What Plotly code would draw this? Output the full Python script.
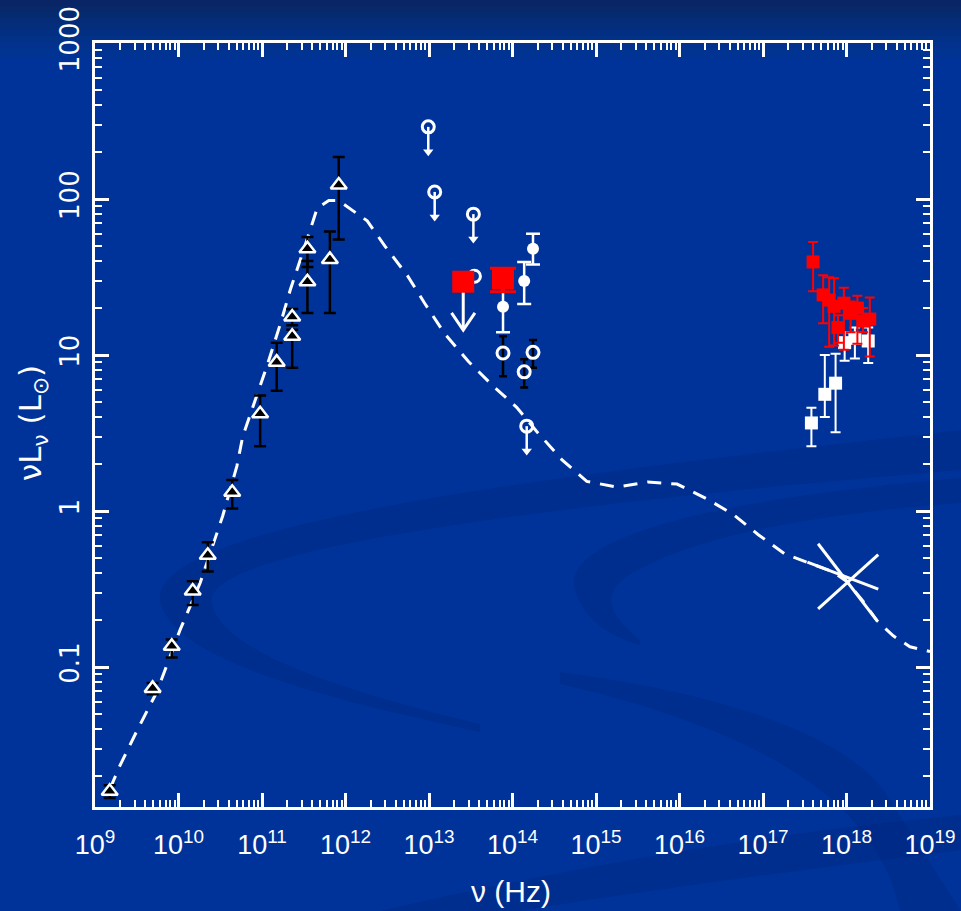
import numpy as np
import plotly.graph_objects as go

# ---------------- data ----------------
# radio / sub-mm (triangles)
radio_nu = [1.5e9, 4.9e9, 8.3e9, 1.48e10, 2.24e10, 4.4e10, 9.5e10, 1.5e11,
            2.3e11, 2.3e11, 3.5e11, 3.5e11, 6.5e11, 8.3e11]
radio_L = [0.016, 0.073, 0.136, 0.307, 0.52, 1.32, 4.2, 9.0,
           13.2, 17.5, 29.5, 48, 41, 123]
radio_hi = [0.0175, 0.079, 0.150, 0.355, 0.63, 1.58, 5.5, 12.0,
            14.5, 19.7, 40, 57, 62, 186]
radio_lo = [0.0145, 0.067, 0.115, 0.25, 0.41, 1.04, 2.6, 5.9,
            8.3, 15.5, 18.6, 36.6, 18.6, 55]

# IR upper limits (open circles with arrows)
ul_nu = [9.8e12, 1.17e13, 3.4e13, 1.48e14]
ul_L = [290, 111, 80, 3.5]
hidden_nu = [3.5e13]
hidden_L = [32]

# mid-IR open circles with black error bars
mir_nu = [7.7e13, 1.38e14, 1.76e14]
mir_L = [10.3, 7.8, 10.4]
mir_hi = [13.2, 9.4, 12.5]
mir_lo = [7.3, 6.2, 8.3]

# near-IR filled white circles
nir_nu = [7.7e13, 1.38e14, 1.76e14]
nir_L = [20.4, 29.8, 48]
nir_hi = [27, 39.5, 60]
nir_lo = [14, 21.2, 38]

# big red squares
red_ul_nu = [2.57e13]
red_ul_L = [29.5]
red_det_nu = [7.7e13]
red_det_L = [31]
red_det_hi = [36]
red_det_lo = [25.4]

# X-ray (red)
xr_red_nu = [3.98e17, 5.25e17, 6.2e17, 7.1e17, 7.9e17, 9.3e17, 1.12e18, 1.35e18, 1.58e18, 1.9e18]
xr_red_L = [39.5, 24.3, 22.5, 20.5, 15.0, 21.5, 18.5, 20.0, 16.5, 17.0]
xr_red_hi = [53, 32.5, 31.5, 31.0, 18.0, 27.0, 22.0, 24.0, 20.0, 23.4]
xr_red_lo = [25.6, 16.0, 11.3, 11.5, 12.0, 10.8, 14.0, 11.8, 14.0, 9.8]

# X-ray (white)
xr_wh_nu = [3.8e17, 5.5e17, 7.4e17, 9.5e17, 1.26e18, 1.82e18]
xr_wh_L = [3.67, 5.6, 6.6, 12.0, 12.8, 12.3]
xr_wh_hi = [4.6, 10.0, 10.2, 14.0, 15.0, 15.0]
xr_wh_lo = [2.6, 4.0, 3.2, 9.2, 9.5, 8.9]

# X-ray bow-tie (three lines)
bow1_nu = [4.57e17, 2.34e18]
bow1_L = [0.617, 0.197]
bow2_nu = [4.57e17, 2.4e18]
bow2_L = [0.236, 0.525]
bow3_nu = [3.4e17, 2.4e18]
bow3_L = [0.471, 0.316]

# model SED (dashed), log10 values
model_lognu = [9.18, 9.3, 9.51, 9.74, 10.02, 10.26, 10.53, 10.70, 10.77, 11.06, 11.22,
               11.34, 11.57, 11.66, 11.80, 11.90, 11.97, 12.26, 12.47, 12.74, 12.95,
               13.19, 13.47, 13.77, 14.05, 14.29, 14.59, 14.89, 15.25, 15.62, 15.97,
               16.33, 16.64, 16.94, 17.26, 17.6, 17.84, 18.0, 18.2, 18.37, 18.56,
               18.76, 18.9, 19.0]
model_logL = [-1.78, -1.63, -1.40, -1.16, -0.76, -0.46, -0.03, 0.29, 0.48, 0.93, 1.20,
              1.42, 1.79, 1.94, 1.99, 1.99, 1.97, 1.86, 1.70, 1.51, 1.33,
              1.135, 0.96, 0.80, 0.665, 0.51, 0.33, 0.19, 0.154, 0.186, 0.173,
              0.077, -0.02, -0.15, -0.275, -0.34, -0.39, -0.45, -0.58, -0.705, -0.80,
              -0.87, -0.885, -0.90]

x_tick_exp = list(range(9, 20))
y_tick_vals = [0.1, 1, 10, 100, 1000]
y_tick_text = ["0.1", "1", "10", "100", "1000"]

# ---------------- figure ----------------
W, H = 961, 911
ML, MR, MT, MB = 95, 31, 43, 104
PW, PH = W - ML - MR, H - MT - MB

def pxp(px, py):
    return (px - ML) / PW, (H - MB - py) / PH

WHITE = "white"
fig = go.Figure()

# model curve
fig.add_trace(go.Scatter(x=10 ** np.array(model_lognu), y=10 ** np.array(model_logL),
                         mode="lines", line=dict(color=WHITE, width=3, dash="14px,10px"),
                         hoverinfo="skip"))

# bow-tie
for bx, by in [(bow1_nu, bow1_L), (bow2_nu, bow2_L), (bow3_nu, bow3_L)]:
    fig.add_trace(go.Scatter(x=bx, y=by, mode="lines", line=dict(color=WHITE, width=3)))

# upper-limit arrows for small open circles
ul_arrow = 10 ** -0.16
for nu, L in zip(ul_nu, ul_L):
    fig.add_trace(go.Scatter(x=[nu, nu], y=[L, L * ul_arrow], mode="lines",
                             line=dict(color=WHITE, width=2.5)))
fig.add_trace(go.Scatter(x=ul_nu, y=[L * ul_arrow for L in ul_L], mode="markers",
                         marker=dict(symbol="triangle-down", size=9, color=WHITE)))
fig.add_trace(go.Scatter(x=ul_nu, y=ul_L, mode="markers",
                         marker=dict(symbol="circle-open", size=12, color=WHITE,
                                     line=dict(width=3, color=WHITE))))
fig.add_trace(go.Scatter(x=hidden_nu, y=hidden_L, mode="markers",
                         marker=dict(symbol="circle-open", size=12, color=WHITE,
                                     line=dict(width=3, color=WHITE))))

# radio triangles
fig.add_trace(go.Scatter(x=radio_nu, y=radio_L, mode="markers",
                         error_y=dict(type="data", symmetric=False,
                                      array=[h - v for h, v in zip(radio_hi, radio_L)],
                                      arrayminus=[v - l for v, l in zip(radio_L, radio_lo)],
                                      color="black", thickness=2.5, width=6),
                         marker=dict(symbol="triangle-up", size=14, color="black",
                                     line=dict(color=WHITE, width=2.5))))

# mid-IR open circles
fig.add_trace(go.Scatter(x=mir_nu, y=mir_L, mode="markers",
                         error_y=dict(type="data", symmetric=False,
                                      array=[h - v for h, v in zip(mir_hi, mir_L)],
                                      arrayminus=[v - l for v, l in zip(mir_L, mir_lo)],
                                      color="black", thickness=2.5, width=4),
                         marker=dict(symbol="circle-open", size=12, color=WHITE,
                                     line=dict(color=WHITE, width=3))))

# near-IR filled circles
fig.add_trace(go.Scatter(x=nir_nu, y=nir_L, mode="markers",
                         error_y=dict(type="data", symmetric=False,
                                      array=[h - v for h, v in zip(nir_hi, nir_L)],
                                      arrayminus=[v - l for v, l in zip(nir_L, nir_lo)],
                                      color=WHITE, thickness=2.5, width=7),
                         marker=dict(symbol="circle", size=12, color=WHITE)))

# big red upper limit + arrow
arrow_tip = 10 ** -0.31
arm_up = 10 ** 0.11
arm_dx = 10 ** 0.14
for nu, L in zip(red_ul_nu, red_ul_L):
    tip = L * arrow_tip
    fig.add_trace(go.Scatter(x=[nu, nu], y=[L, tip], mode="lines",
                             line=dict(color=WHITE, width=3)))
    fig.add_trace(go.Scatter(x=[nu / arm_dx, nu, nu * arm_dx], y=[tip * arm_up, tip, tip * arm_up],
                             mode="lines", line=dict(color=WHITE, width=3)))
fig.add_trace(go.Scatter(x=red_ul_nu, y=red_ul_L, mode="markers",
                         marker=dict(symbol="square", size=22, color="#ff0000")))
fig.add_trace(go.Scatter(x=red_det_nu, y=red_det_L, mode="markers",
                         error_y=dict(type="data", symmetric=False,
                                      array=[h - v for h, v in zip(red_det_hi, red_det_L)],
                                      arrayminus=[v - l for v, l in zip(red_det_L, red_det_lo)],
                                      color="#ff0000", thickness=3, width=13),
                         marker=dict(symbol="square", size=22, color="#ff0000")))

# X-ray white
fig.add_trace(go.Scatter(x=xr_wh_nu, y=xr_wh_L, mode="markers",
                         error_y=dict(type="data", symmetric=False,
                                      array=[h - v for h, v in zip(xr_wh_hi, xr_wh_L)],
                                      arrayminus=[v - l for v, l in zip(xr_wh_L, xr_wh_lo)],
                                      color=WHITE, thickness=2, width=5),
                         marker=dict(symbol="square", size=13, color=WHITE)))
# X-ray red
fig.add_trace(go.Scatter(x=xr_red_nu, y=xr_red_L, mode="markers",
                         error_y=dict(type="data", symmetric=False,
                                      array=[h - v for h, v in zip(xr_red_hi, xr_red_L)],
                                      arrayminus=[v - l for v, l in zip(xr_red_L, xr_red_lo)],
                                      color="#ff0000", thickness=2, width=5),
                         marker=dict(symbol="square", size=13, color="#ff0000")))

# ---------------- background decoration ----------------
shapes = []
# darker gradient at top of slide
top_cols = ["#0a2566", "#082869", "#062a70", "#052c76", "#042e7c", "#032f82",
            "#023188", "#02328d", "#013391", "#013395"]
for i, c in enumerate(top_cols):
    y0 = 1 + (MT - i * 6) / PH
    y1 = 1 + (MT - (i + 1) * 6) / PH
    shapes.append(dict(type="rect", xref="paper", yref="paper", x0=-ML / PW, x1=1 + MR / PW,
                       y0=y1, y1=y0 if i else 1 + (MT + 5) / PH, line=dict(width=0),
                       fillcolor=c, layer="below"))

def path_from(points):
    s = ""
    for cmd, pts in points:
        s += cmd
        s += " ".join("%.4f,%.4f" % pxp(px, py) for px, py in pts) + " "
    return s + "Z"

swoosh = "rgba(0,25,100,0.18)"
# left C-shaped band
pA = path_from([("M", [(961, 430)]), ("C", [(600, 470), (150, 520), (160, 600)]),
                ("C", [(170, 660), (330, 700), (480, 732)]),
                ("L", [(480, 724)]), ("C", [(340, 690), (215, 650), (212, 600)]),
                ("C", [(210, 545), (600, 500), (961, 470)])])
# right C-shaped band
pB = path_from([("M", [(961, 478)]), ("C", [(700, 500), (560, 540), (575, 590)]),
                ("C", [(585, 625), (620, 640), (640, 645)]),
                ("L", [(640, 640)]), ("C", [(615, 620), (600, 600), (622, 580)]),
                ("C", [(680, 540), (800, 515), (961, 503)])])
# lower sweeping band
pC = path_from([("M", [(560, 672)]), ("C", [(700, 690), (850, 730), (890, 800)]),
                ("L", [(961, 911)]), ("L", [(900, 911)]),
                ("C", [(880, 820), (800, 740), (560, 684)])])
# bottom-right diagonal band
pD = path_from([("M", [(380, 911)]), ("C", [(600, 860), (800, 830), (961, 815)]),
                ("L", [(961, 850)]), ("C", [(800, 870), (650, 890), (520, 911)])])
for p in [pA, pB, pC, pD]:
    shapes.append(dict(type="path", xref="paper", yref="paper", path=p,
                       fillcolor=swoosh, line=dict(width=0), layer="below"))

# ---------------- axes ----------------
minor_x = [m * 10 ** e for e in range(9, 19) for m in range(2, 10)]
minor_y = [m * 10 ** e for e in range(-2, 3) for m in range(2, 10)]
SANS = "Liberation Sans, Arial, sans-serif"
WIDE = "DejaVu Sans, Verdana, sans-serif"

fig.update_xaxes(type="log", range=[9, 19], showgrid=False, zeroline=False,
                 automargin=False,
                 showline=True, linecolor=WHITE, linewidth=3, mirror="allticks",
                 ticks="inside", ticklen=14, tickwidth=2.5, tickcolor=WHITE,
                 tickmode="array", tickvals=[10 ** e for e in x_tick_exp],
                 ticktext=["10<sup>%d</sup>" % e for e in x_tick_exp],
                 tickfont=dict(family=SANS, size=27, color=WHITE),
                 ticklabelstandoff=12,
                 minor=dict(ticks="inside", ticklen=7, tickwidth=2, tickcolor=WHITE,
                            tickmode="array", tickvals=minor_x, showgrid=False))
fig.update_yaxes(type="log", range=[-1.897, 3], showgrid=False, zeroline=False,
                 automargin=False,
                 showline=True, linecolor=WHITE, linewidth=3, mirror="allticks",
                 ticks="inside", ticklen=14, tickwidth=2.5, tickcolor=WHITE,
                 tickmode="array", tickvals=y_tick_vals, ticktext=y_tick_text,
                 tickangle=-90,
                 tickfont=dict(family=WIDE, size=26, color=WHITE),
                 ticklabelstandoff=3,
                 minor=dict(ticks="inside", ticklen=7, tickwidth=2, tickcolor=WHITE,
                            tickmode="array", tickvals=minor_y, showgrid=False))

fig.update_layout(
    width=W, height=H,
    margin=dict(l=ML, r=MR, t=MT, b=MB, autoexpand=False),
    paper_bgcolor="#003399", plot_bgcolor="rgba(0,0,0,0)",
    showlegend=False, shapes=shapes,
    annotations=[
        dict(text="ν (Hz)", xref="paper", yref="paper",
             x=pxp(511, 0)[0], y=pxp(0, 891)[1], xanchor="center", yanchor="middle",
             showarrow=False, font=dict(family=SANS, size=30, color=WHITE)),
        dict(text="νL<sub>ν</sub> (L<sub>⊙</sub>)", xref="paper", yref="paper",
             x=pxp(32, 0)[0], y=pxp(0, 423)[1], xanchor="center", yanchor="middle",
             showarrow=False, textangle=-90,
             font=dict(family=WIDE, size=31, color=WHITE)),
    ],
)

fig.write_html("out.html")
